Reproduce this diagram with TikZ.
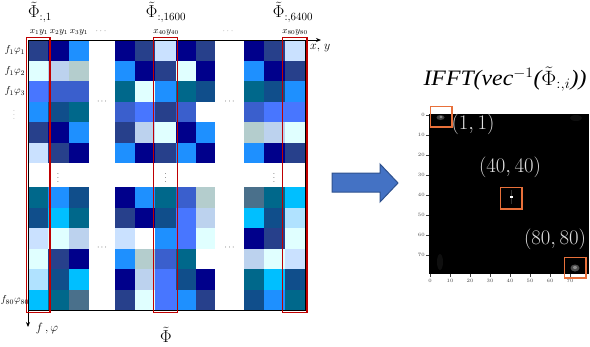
\documentclass[tikz,border=0pt]{standalone}
\usepackage{fontspec}
\newfontfamily\tnr{Liberation Serif}
\usetikzlibrary{arrows.meta}
\definecolor{cN}{HTML}{00008B}
\definecolor{cD}{HTML}{27408B}
\definecolor{cB}{HTML}{1E90FF}
\definecolor{cL}{HTML}{CAE1FF}
\definecolor{cC}{HTML}{E0FFFF}
\definecolor{cS}{HTML}{BCD2EE}
\definecolor{cG}{HTML}{B4CDCD}
\definecolor{cR}{HTML}{3A5FCD}
\definecolor{cP}{HTML}{4876FF}
\definecolor{cT}{HTML}{00688B}
\definecolor{cE}{HTML}{104E8B}
\definecolor{cK}{HTML}{00BFFF}
\definecolor{cA}{HTML}{4A708B}
\definecolor{cY}{HTML}{B0E2FF}
\definecolor{cW}{HTML}{FFFFFF}
\definecolor{boxred}{HTML}{C00000}
\definecolor{boxorange}{HTML}{E8703A}
\definecolor{arrowfill}{HTML}{4472C4}
\definecolor{arrowline}{HTML}{2F528F}
\def\colL{{28,48.33,68.67,115,135,155,175.5,196,244,264.33,284.67}}
\def\colR{{48.33,68.67,89,135,155,175.5,196,215,264.33,284.67,305}}
\newcommand\mxrow[3]{%
  \foreach \cc [count=\i from 0] in {#3} {%
    \pgfmathsetmacro\xa{\colL[\i]}%
    \pgfmathsetmacro\xb{\colR[\i]}%
    \fill[c\cc] (\xa,#1) rectangle (\xb,#2);
  }}
\tikzset{
  redbox/.style={draw=boxred, line width=1.6pt},
  orangebox/.style={draw=boxorange, line width=1.4pt},
  axisline/.style={draw=black, line width=0.9pt},
  hdr/.style={font=\fontsize{16}{16}\selectfont, inner sep=0pt},
  collab/.style={font=\fontsize{9}{9}\selectfont, inner sep=0pt},
  rowlab/.style={font=\fontsize{10}{10}\selectfont, inner sep=0pt},
  dotlab/.style={font=\fontsize{8}{8}\selectfont, inner sep=0pt},
  ticklab/.style={font=\fontsize{5}{5}\selectfont, inner sep=0pt, text=black!75},
  imglab/.style={font=\fontsize{20}{20}\selectfont, inner sep=0pt, text=black!12},
}
\begin{document}
\begin{tikzpicture}[x=1pt,y=-1pt]
\useasboundingbox (0,0) rectangle (590,346);
% matrix cells
\mxrow{40}{60.5}{D,N,B,N,D,L,N,D,N,D,L}
\mxrow{60.5}{81}{C,S,G,B,N,D,C,N,B,N,D}
\mxrow{81}{101.5}{P,R,R,T,C,B,T,E,T,E,B}
\mxrow{101.5}{122}{B,E,T,R,P,D,R,W,R,P,P}
\mxrow{122}{142.5}{D,N,B,D,S,C,N,B,G,S,C}
\mxrow{142.5}{163}{L,D,N,B,N,D,B,N,B,N,D}
\mxrow{187}{207.5}{T,B,E,N,B,T,R,G,A,T,K}
\mxrow{207.5}{228}{E,K,T,D,N,E,P,S,K,E,Y}
\mxrow{228}{248.5}{L,C,S,L,W,B,P,C,N,D,C}
\mxrow{248.5}{269}{C,D,N,B,G,R,T,W,S,C,L}
\mxrow{269}{289.5}{Y,E,K,N,S,P,E,N,T,K,E}
\mxrow{289.5}{310}{K,T,A,D,C,P,B,D,E,B,T}
% dots inside matrix
\node[dotlab] (d1) at (102,102) {$\cdots$};
\node[dotlab] (d2) at (229.5,102) {$\cdots$};
\node[dotlab] (d3) at (102,248) {$\cdots$};
\node[dotlab] (d4) at (229.5,248) {$\cdots$};
\node[dotlab] (v1) at (58,175) {$\vdots$};
\node[dotlab] (v2) at (165.5,175) {$\vdots$};
\node[dotlab] (v3) at (274,175) {$\vdots$};
% axes and border
\coordinate (o) at (28,40);
\coordinate (xe) at (321,40);
\coordinate (ye) at (28,327);
\coordinate (tr) at (305,40);
\coordinate (br) at (305,310);
\coordinate (bl) at (28,310);
\draw[axisline] (tr) -- (br) -- (bl);
\draw[axisline,-{Stealth[length=5pt,width=4pt]}] (o) -- (xe);
\draw[axisline,-{Stealth[length=5pt,width=4pt]}] (o) -- (ye);
% red boxes
\draw[redbox] (26.5,37.5) rectangle (49.8,312.5);
\draw[redbox] (153.5,37.5) rectangle (177.5,312.5);
\draw[redbox] (282.5,37.5) rectangle (306.8,312.5);
% headers
\node[hdr] (h1) at (40,12) {$\tilde{\Phi}_{:,1}$};
\node[hdr] (h2) at (166,12) {$\tilde{\Phi}_{:,1600}$};
\node[hdr] (h3) at (293,12) {$\tilde{\Phi}_{:,6400}$};
\node[collab] (c1) at (39,32) {$x_1y_1$};
\node[collab] (c2) at (59,32) {$x_2y_1$};
\node[collab] (c3) at (79,32) {$x_3y_1$};
\node[collab,text=black!55] (c4) at (101,31) {$\cdots$};
\node[collab] (c5) at (166,32) {$x_{40}y_{40}$};
\node[collab,text=black!40] (c6) at (228,31) {$\cdots$};
\node[collab] (c7) at (295,32) {$x_{80}y_{80}$};
\node[rowlab] (r1) at (15,50) {$f_1\varphi_1$};
\node[rowlab] (r2) at (15,71) {$f_1\varphi_2$};
\node[rowlab] (r3) at (15,91) {$f_1\varphi_3$};
\node[dotlab,text=black!45] (r4) at (14,112) {$\vdots$};
\node[rowlab] (r5) at (15,300) {$f_{80}\varphi_{80}$};
\node[font=\fontsize{13}{13}\selectfont, anchor=west, inner sep=0pt] (xy) at (310,48) {$x,\,y$};
\node[font=\fontsize{13}{13}\selectfont, inner sep=0pt] (fp) at (47,328) {$f\,,\varphi$};
\node[font=\fontsize{19}{19}\selectfont, inner sep=0pt] (bigphi) at (166,335) {$\tilde{\Phi}$};
% big arrow
\filldraw[fill=arrowfill, draw=arrowline, line width=1pt, line join=miter]
  (332,173) -- (380,173) -- (380,164) -- (398,183) -- (380,202) -- (380,192) -- (332,192) -- cycle;
% right image
\node[font=\fontsize{22}{22}\selectfont\tnr\itshape, inner sep=0pt] (title) at (505,79)
  {\scalebox{1.08}[1]{IFFT(vec$^{-1}$($\tilde{\Phi}_{:,i}$))}};
\fill[black] (429,114) rectangle (589,274);
\fill[black!94] (440,262) ellipse (3pt and 8pt);
\fill[black!94] (576,118) ellipse (6pt and 3pt);
\fill[black!75] (440.5,117.5) ellipse (4pt and 2.5pt);
\fill[black!45] (441,117) ellipse (1.6pt and 1.2pt);
\fill[black!80] (511.2,190) rectangle (512,204);
\fill[white] (510.2,195.5) rectangle (512.6,198);
\fill[black!70] (575,268) ellipse (4.5pt and 3.5pt);
\fill[black!45] (575,267.5) ellipse (2pt and 1.6pt);
\foreach \v in {0,10,...,70} {
  \draw[black!75, line width=0.4pt] (429,115+2*\v) -- (426,115+2*\v);
  \node[ticklab, anchor=east] (yt\v) at (425,115+2*\v) {\v};
  \draw[black!75, line width=0.4pt] (430+2*\v,274) -- (430+2*\v,277);
  \node[ticklab, anchor=north] (xt\v) at (430+2*\v,278.5) {\v};
}
\draw[orangebox] (430.5,106.5) rectangle (452,127);
\draw[orangebox] (500.5,187.5) rectangle (522,209);
\draw[orangebox] (564.5,257.5) rectangle (586,278);
\node[imglab] (l1) at (473,124) {$(1,1)$};
\node[imglab] (l2) at (510,167) {$(40,40)$};
\node[imglab] (l3) at (555,239) {$(80,80)$};
\end{tikzpicture}
\end{document}
